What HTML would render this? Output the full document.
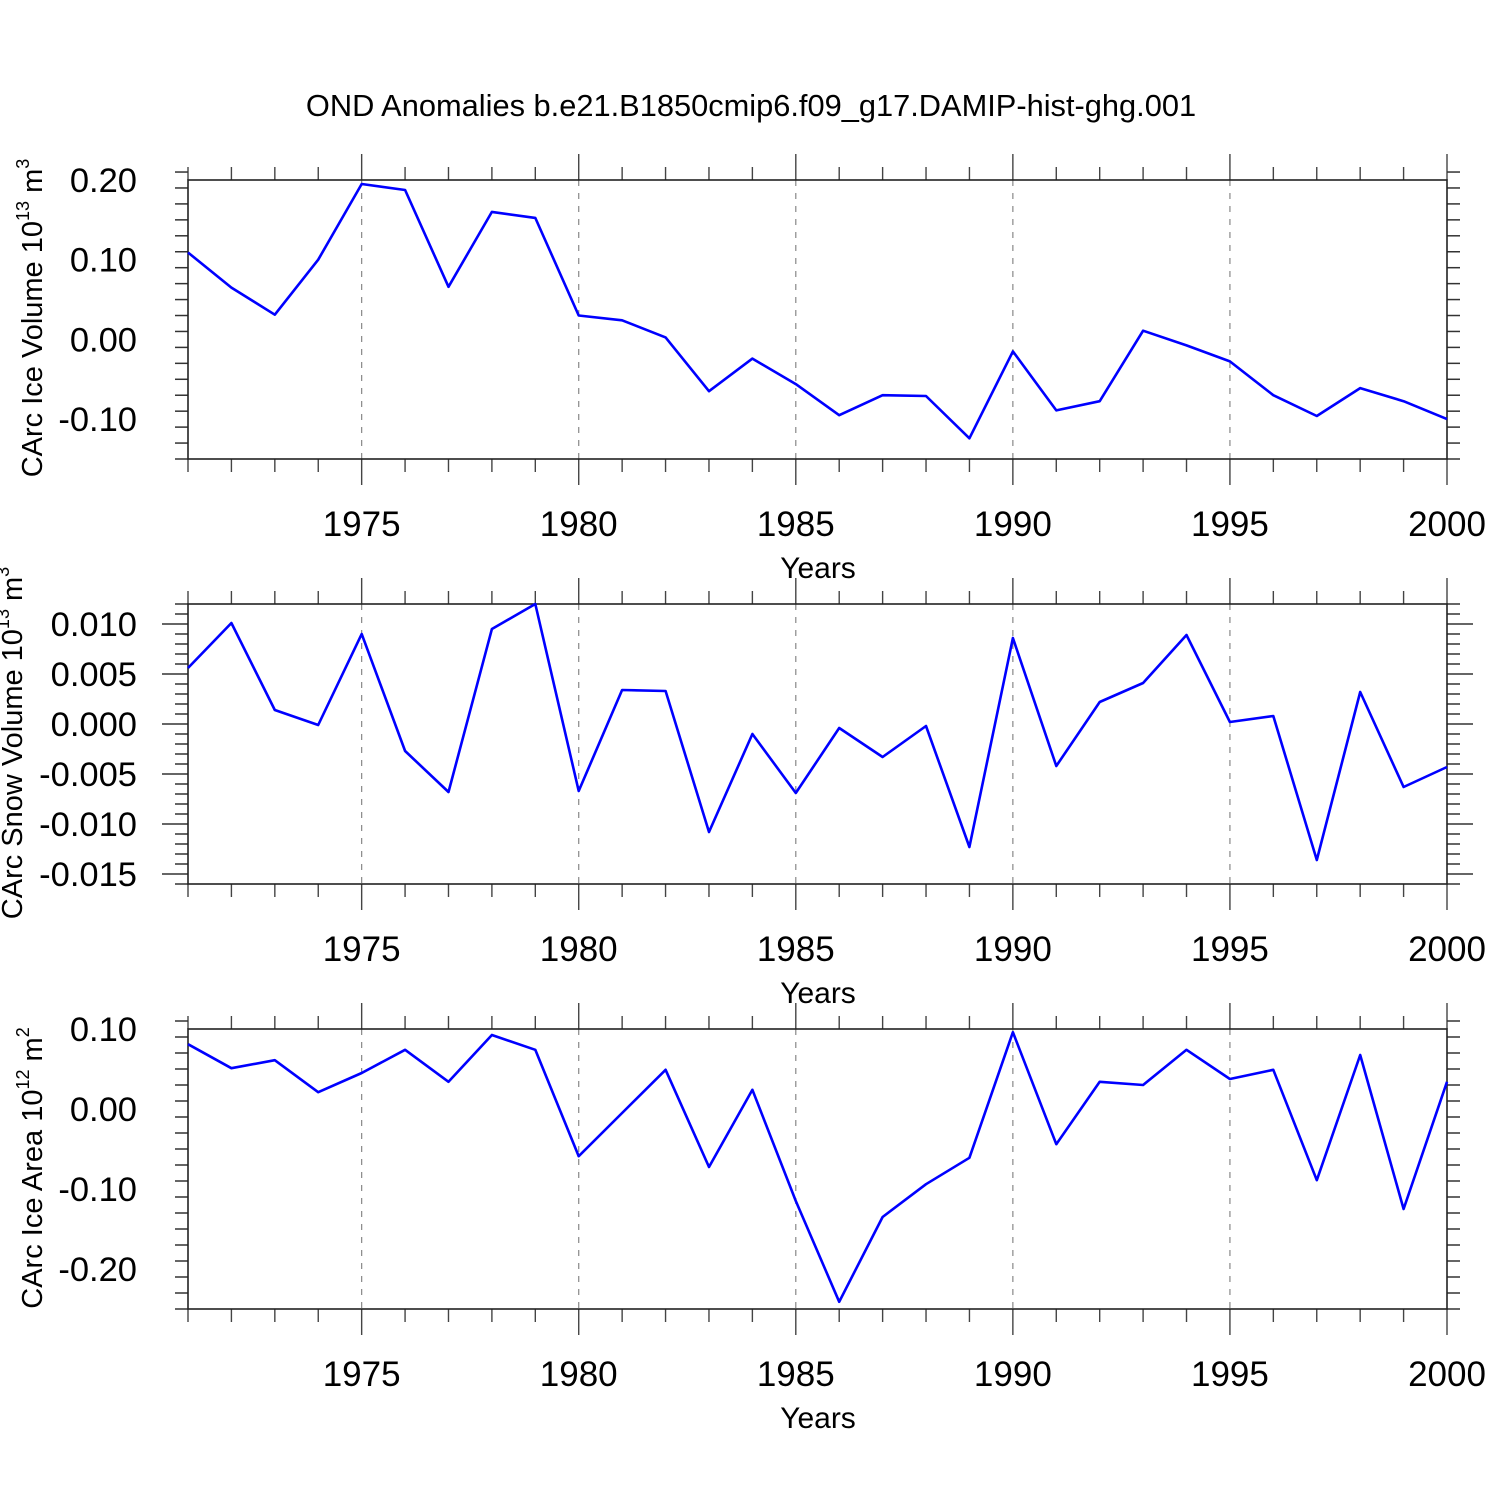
<!DOCTYPE html>
<html><head><meta charset="utf-8"><style>body{margin:0;background:#fff}svg{display:block}</style></head>
<body>
<svg id="chart" width="1500" height="1500" xmlns="http://www.w3.org/2000/svg" font-family="Liberation Sans, sans-serif">
<text x="751" y="116" font-size="30.8" text-anchor="middle">OND Anomalies b.e21.B1850cmip6.f09_g17.DAMIP-hist-ghg.001</text>
</svg>
<script>
const years = [];
for (let y = 1971; y <= 2000; y++) years.push(y);
const xTickLabels = [1975, 1980, 1985, 1990, 1995, 2000];
const iceVolume = [0.109,0.065,0.031,0.100,0.195,0.1875,0.066,0.160,0.1525,0.030,0.024,0.0025,-0.065,-0.024,-0.056,-0.095,-0.070,-0.071,-0.124,-0.015,-0.089,-0.0775,0.011,-0.0075,-0.0275,-0.070,-0.096,-0.061,-0.0775,-0.100];
const snowVolume = [0.0056,0.0101,0.0014,-0.0001,0.0090,-0.0027,-0.0068,0.0095,0.0120,-0.0067,0.0034,0.0033,-0.0108,-0.0010,-0.0069,-0.0004,-0.0033,-0.0002,-0.0123,0.0086,-0.0042,0.0022,0.0041,0.0089,0.0002,0.0008,-0.0136,0.0032,-0.0063,-0.0043];
const iceArea = [0.081,0.051,0.061,0.021,0.045,0.074,0.034,0.0925,0.074,-0.059,-0.005,0.049,-0.0725,0.024,-0.115,-0.241,-0.135,-0.094,-0.061,0.096,-0.044,0.034,0.030,0.074,0.0375,0.049,-0.089,0.0675,-0.125,0.034];
const iceVolTicks = ["0.20","0.10","0.00","-0.10"];
const snowTicks = ["0.010","0.005","0.000","-0.005","-0.010","-0.015"];
const areaTicks = ["0.10","0.00","-0.10","-0.20"];

const NS = "http://www.w3.org/2000/svg";
const svg = document.getElementById('chart');
function mk(tag, attrs, parent) {
  const e = document.createElementNS(NS, tag);
  for (const k in attrs) e.setAttribute(k, attrs[k]);
  (parent || svg).appendChild(e);
  return e;
}
const X0 = 188, X1 = 1447;
const xs = yr => X0 + (yr - 1971) * (X1 - X0) / 29;

function panel(name, top, bottom, ymin, ymax, majorStep, minorStep, tickLabels, data, ylabelHTML, ylabelX, ylabelY) {
  const g = mk('g', {});
  
  
  const ys = v => bottom - (v - ymin) * (bottom - top) / (ymax - ymin);
  xTickLabels.forEach(yr => {
    if (yr >= 2000) return;
    const l = mk('line', {x1: xs(yr), x2: xs(yr), y1: top, y2: bottom, stroke: '#888', 'stroke-width': 1.2, 'stroke-dasharray': '6,7'}, g);
    
    
  });
  years.forEach(yr => {
    const major = yr % 5 === 0;
    const x = xs(yr), len = major ? 26 : 13;
    mk('line', {x1: x, x2: x, y1: top - len, y2: top, stroke: '#444', 'stroke-width': 1.4}, g);
    mk('line', {x1: x, x2: x, y1: bottom, y2: bottom + len, stroke: '#444', 'stroke-width': 1.4}, g);
  });
  xTickLabels.forEach(yr => {
    const t = mk('text', {x: xs(yr), y: bottom + 77, 'font-size': 35, 'text-anchor': 'middle'}, g);
    t.textContent = yr;
    
    
  });
  const xt = mk('text', {x: 818, y: bottom + 119, 'font-size': 30, 'text-anchor': 'middle'}, g);
  xt.textContent = 'Years';
  
  
  const nMinor = Math.round((ymax - ymin) / minorStep);
  for (let i = 0; i <= nMinor; i++) {
    const v = ymin + i * minorStep;
    const isMajor = Math.abs(v / majorStep - Math.round(v / majorStep)) < 1e-6;
    const len = isMajor ? 26 : 13, y = ys(v);
    mk('line', {x1: X0 - len, x2: X0, y1: y, y2: y, stroke: '#333', 'stroke-width': 1.5}, g);
    mk('line', {x1: X1, x2: X1 + len, y1: y, y2: y, stroke: '#333', 'stroke-width': 1.5}, g);
  }
  tickLabels.forEach(s => {
    const t = mk('text', {x: 137, y: ys(parseFloat(s)) + 12, 'font-size': 34.5, 'text-anchor': 'end'}, g);
    t.textContent = s;
    
    
  });
  mk('rect', {x: X0, y: top, width: X1 - X0, height: bottom - top, fill: 'none', stroke: '#222', 'stroke-width': 1.6}, g);
  const pts = data.map((v, i) => xs(years[i]).toFixed(1) + ',' + ys(v).toFixed(1)).join(' ');
  const pl = mk('polyline', {points: pts, fill: 'none', stroke: '#0000ff', 'stroke-width': 2.6, 'stroke-linejoin': 'round'}, g);
  
  
  const yl = mk('text', {transform: `translate(${ylabelX},${ylabelY}) rotate(-90)`, 'font-size': 29, 'text-anchor': 'middle'}, g);
  yl.innerHTML = ylabelHTML;
  
  
}
panel('ice-volume', 180, 459, -0.15, 0.20, 0.10, 0.02, iceVolTicks, iceVolume,
  'CArc Ice Volume 10<tspan dy="-13" font-size="18">13</tspan><tspan dy="13"> m</tspan><tspan dy="-13" font-size="18">3</tspan>', 42, 318);
panel('snow-volume', 604, 884, -0.016, 0.012, 0.005, 0.001, snowTicks, snowVolume,
  'CArc Snow Volume 10<tspan dy="-13" font-size="18">13</tspan><tspan dy="13"> m</tspan><tspan dy="-13" font-size="18">3</tspan>', 22, 743);
panel('ice-area', 1029, 1309, -0.25, 0.10, 0.10, 0.02, areaTicks, iceArea,
  'CArc Ice Area 10<tspan dy="-13" font-size="18">12</tspan><tspan dy="13"> m</tspan><tspan dy="-13" font-size="18">2</tspan>', 42, 1168);
</script>
</body></html>
